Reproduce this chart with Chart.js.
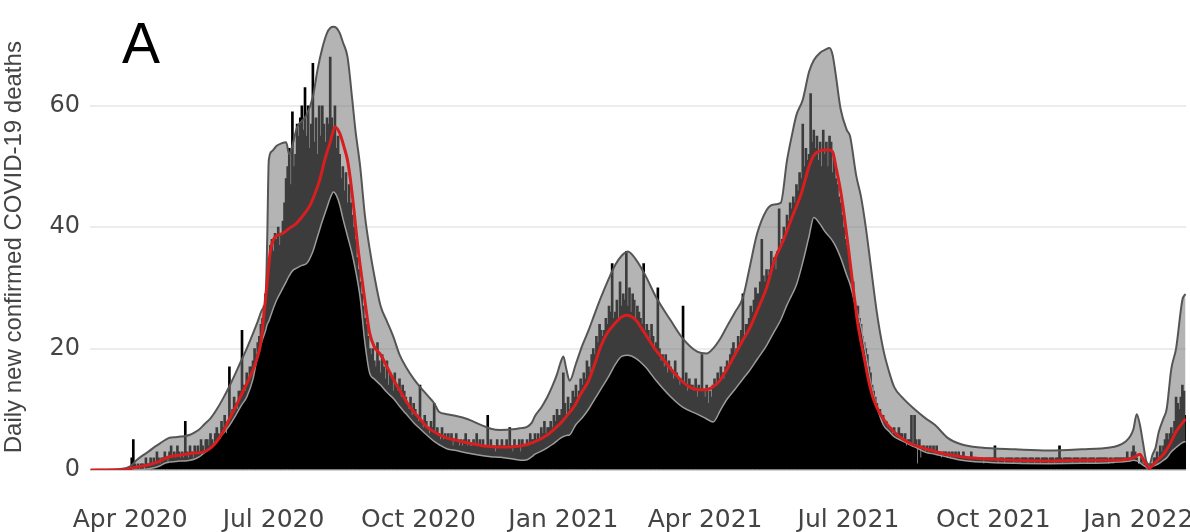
<!DOCTYPE html>
<html>
<head>
<meta charset="utf-8">
<script src="https://cdn.jsdelivr.net/npm/chart.js@4/dist/chart.umd.min.js"></script>
<style>
  html, body { margin: 0; padding: 0; background: #fff; }
  #wrap { width: 1190px; height: 532px; }
</style>
</head>
<body>
<div id="wrap"><canvas id="c" width="1190" height="532"></canvas></div>
<script>
// Day 0 is 7 Mar 2020; one value per day up to 31 Jan 2022.
const dailyDeaths = [
  0,0,0,0,0,0,0,0,0,0,0,0,0,0,0,0,0,0,0,0,0,0,0,0,0,
  0,2,5,1,0,1,0,
  1,1,0,2,1,1,2,
  1,2,1,3,2,1,2,
  2,3,2,1,3,4,2,
  3,2,4,3,2,3,2,
  8,3,2,4,3,2,4,
  3,4,3,5,4,3,5,
  5,4,6,5,4,6,7,
  6,5,8,7,9,6,8,
  17,9,10,12,11,10,13,
  13,23,14,13,16,15,17,
  17,18,20,19,21,22,24,
  25,27,29,32,35,37,38,
  36,39,38,40,37,39,41,
  44,48,50,53,47,59,50,
  52,57,55,58,60,56,63,
  55,60,53,57,67,54,58,
  52,60,55,60,57,54,58,
  57,68,58,56,60,53,55,
  52,48,50,46,49,44,47,
  44,42,40,38,35,33,31,
  29,27,25,24,22,20,19,
  20,18,17,21,18,16,19,
  17,15,18,14,16,15,13,
  16,14,13,15,12,14,13,
  12,11,10,12,9,11,10,
  9,8,14,8,7,9,8,
  7,6,8,7,11,6,7,
  6,5,7,5,6,5,6,
  5,6,4,5,6,5,4,
  5,4,5,6,4,5,4,
  4,5,4,6,4,5,4,
  5,4,4,9,4,5,4,
  4,3,5,4,4,5,4,
  4,5,4,7,4,3,5,
  4,4,5,3,5,4,4,
  5,4,6,5,5,6,5,
  6,5,7,6,8,6,7,
  7,8,7,9,8,10,9,
  9,10,16,11,9,12,10,
  11,13,12,14,12,13,15,
  14,16,15,18,17,16,19,
  20,19,22,21,24,23,22,
  23,25,24,27,26,34,25,
  26,28,25,31,27,29,28,
  36,27,30,26,29,28,25,
  27,26,25,24,34,23,24,
  23,21,24,22,20,21,30,
  20,18,19,17,19,16,18,
  17,16,15,18,16,15,14,
  15,27,14,16,13,15,14,
  14,13,15,12,14,13,19,
  13,12,14,11,13,12,14,
  15,14,16,15,17,16,15,
  17,18,17,19,20,21,19,
  20,22,21,23,29,22,24,
  24,25,27,26,28,30,29,
  29,31,38,32,31,33,32,
  33,36,34,35,33,36,43,
  37,38,40,39,42,41,44,
  43,45,44,47,46,49,48,
  57,50,53,51,52,62,54,
  56,53,55,51,54,50,56,
  52,54,50,55,54,49,51,
  48,47,45,44,42,40,38,
  37,35,33,30,31,28,27,
  27,25,24,22,21,20,19,
  17,16,14,13,12,11,10,
  10,9,9,8,8,7,7,
  7,6,7,6,6,7,6,
  6,5,6,4,5,5,9,
  4,9,5,1,5,2,4,
  4,3,4,3,4,3,4,
  3,4,3,3,2,3,3,
  3,2,3,2,3,2,3,
  2,3,2,2,3,2,2,
  2,2,3,2,2,2,2,
  2,2,2,1,2,2,2,
  2,2,2,4,2,1,2,
  2,2,1,2,2,2,2,
  2,1,2,2,2,1,2,
  2,2,2,1,2,2,2,
  1,2,2,2,1,2,2,
  2,2,1,2,2,2,1,
  2,2,4,2,1,2,2,
  2,2,2,1,2,2,2,
  2,1,2,2,2,2,1,
  2,2,2,2,1,2,2,
  2,2,2,2,2,1,2,
  2,1,2,2,2,2,2,
  2,2,2,3,2,2,3,
  4,3,2,1,1,2,1,
  1,0,1,0,1,1,2,
  2,3,2,4,3,4,5,
  6,5,6,7,6,8,12,
  11,10,12,14,13,9
];

// Credible band: shared day positions for the upper and lower bounds.
const bandDay = [0,20,25,29,33,37,41,44,47,50,54,57,60,63,66,69,72,76,80,84,88,92,96,99,103,106,109,111,112,113,115,118,121,124,126,128,131,134,137,141,144,147,150,152,154,156,158,160,163,166,168,171,174,177,180,184,188,192,196,200,205,209,214,218,221,226,232,239,248,254,260,268,273,277,280,282,286,290,293,296,298,300,302,304,308,312,316,320,324,329,333,337,341,346,352,359,368,376,385,391,395,400,404,409,414,418,423,429,433,438,442,445,448,452,456,459,463,466,469,471,473,476,480,482,486,489,492,495,499,503,507,510,515,523,530,536,544,553,565,587,608,629,647,652,657,660,662,664,666,668,670,672,674,676,678,681,683,686,689,693,695];

const upperBound = [0,0.2,0.6,1.6,2.4,3.1,3.9,4.4,4.9,5.3,5.4,5.5,5.6,5.8,6.2,6.7,7.5,8.5,10,11.8,13.8,16,18.3,20,22.5,24.5,26.5,28,38,51,52.5,53.4,53.8,54,52,53.5,56.5,57.5,58.5,61.5,66,69.5,72,72.8,73,72.8,72,70.5,68,61,56,50,42,36.5,32,27,24.5,22,19,17,15,13.7,12.2,11,9.6,9.2,8.9,8.4,7.4,6.8,6.6,6.7,6.9,7.1,7.8,8.9,10.3,12.1,13.8,15.8,17.5,18.7,16.5,14.7,17.5,20.5,23,25.8,28.5,31.6,33.8,35.3,36,34.7,32.1,28.4,24.7,21.6,19.5,19.2,20,21.8,23.7,26,28.4,33,38.9,42.8,43.7,44,51,55,58.5,61,65.6,67.5,68.75,69.2,69.5,68.3,65,59.5,56,55,48.4,45,40,34,26,20,16,13.7,12,10,8.5,7.4,5.3,4.2,3.7,3.4,3.2,3.4,3.7,4,4.7,5.6,6.8,9.2,7.5,4.5,1.5,0.8,2.5,3.7,6.25,8.5,10,16.7,20,28,29];

const lowerBound = [0,0,0,0,0.1,0.2,0.4,0.7,1.1,1.3,1.4,1.5,1.5,1.6,1.8,2.2,2.8,3.6,4.8,6,7.3,9,10.8,12,15,19,21.5,23,24,24.5,26,28,29.5,31,32,32.8,33.3,33.7,34,36,38.5,41,43.3,44.8,45.8,45.2,43.7,41.5,38.5,35.5,33,28.4,21,16,15,14,12.8,11.8,10.5,9.3,7.8,6.8,5.6,4.7,4.2,3.5,3.2,2.8,2.4,2.2,2.1,1.8,1.6,1.7,2.2,2.6,3.1,3.7,4.2,4.8,5.2,5.5,5.7,5.8,7.5,8.6,10,11.7,13.4,15.5,17.4,18.7,18.9,18.4,17,14.7,12.1,10.3,9.2,8.4,7.9,10,11.7,13.3,15,16.3,18.2,20.5,22.4,24.7,27.2,28.8,30.5,34.2,38.5,41.6,40.5,39.3,38.4,37.7,36.8,35,32,30.6,26.5,23.5,19,14.5,10.5,7.5,6.3,5.5,4.8,3.8,2.9,2.6,2.1,1.6,1.3,1.1,1.05,1.1,1.2,1.3,1.4,1.5,1.6,1.5,1.2,0.8,0.5,0.3,0.6,0.8,1.05,1.6,2,3,3.7,4.5,4.7];

// Smoothed daily estimate.
const meanDay = [0,20,26,32,39,44,49,55,60,66,71,76,80,84,88,92,96,101,105,108,110,112,113,114,116,119,122,126,130,135,139,142,145,149,152,155,158,161,163,165,167,169,171,174,177,180,184,188,192,196,201,205,209,213,218,222,226,232,239,245,252,258,265,271,277,284,290,295,299,303,307,311,316,320,324,328,333,337,340,343,346,350,354,358,363,367,371,375,380,384,388,392,395,399,402,406,410,414,418,424,429,434,440,445,451,456,459,463,466,469,471,473,476,478,481,484,487,491,494,497,501,506,512,518,526,534,545,555,570,587,610,629,645,655,659,663,666,668,670,672,675,678,681,685,689,695];

const meanDeaths = [0,0,0.3,0.6,1,1.5,2.1,2.4,2.6,2.8,2.9,3.6,4.7,6.3,8.4,10.4,12.6,15.3,17.9,21,25.8,31,33.7,36,38,38.7,39,39.8,40.5,42,43.5,45.3,47.5,51.5,54,56.5,55.5,53,51,47.5,43,38,33.7,27.9,22.6,20.3,19,17,15,13.2,11,9.6,8.4,7.2,6.3,5.7,5.3,4.9,4.5,4.2,3.9,3.8,3.8,3.9,4.2,4.9,5.8,6.9,7.9,9.2,10.5,12.5,14.7,17.5,20.5,22.6,24.2,25.2,25.5,25.3,24.7,23.2,21.6,20,18.4,17,15.8,14.7,13.7,13.3,13.2,13.3,13.7,14.6,15.8,17.6,19.5,21.4,23.2,26.8,30,34.5,38,41.5,45.5,50,51.8,52.6,52.7,52.7,52.4,50,46,42.5,36.5,30,24,18.5,14.5,11.6,9.3,7.4,5.8,4.7,3.8,3.2,2.5,2.1,1.8,1.6,1.5,1.6,1.6,1.7,1.8,2.2,2.6,1.8,0.9,0.3,1,1.8,2.6,4.2,6.3,8.4];

const tickDay = [25, 116, 208, 300, 390, 481, 573, 665];
const tickLabels = ['Apr 2020', 'Jul 2020', 'Oct 2020', 'Jan 2021', 'Apr 2021', 'Jul 2021', 'Oct 2021', 'Jan 2022'];
const yTicks = [0, 20, 40, 60];
const yTitle = 'Daily new confirmed COVID-19 deaths';
const panelLetter = 'A';

const barPoints = dailyDeaths.map((v, d) => ({ x: d, y: v }));
const upperPoints = bandDay.map((d, i) => ({ x: d, y: upperBound[i] }));
const lowerPoints = bandDay.map((d, i) => ({ x: d, y: lowerBound[i] }));
const meanPoints = meanDay.map((d, i) => ({ x: d, y: meanDeaths[i] }));

const panelLabel = {
  id: 'panelLabel',
  afterDraw(chart) {
    const ctx = chart.ctx;
    ctx.save();
    ctx.font = '57px "Liberation Sans", Arial, sans-serif';
    ctx.fillStyle = '#000';
    ctx.textBaseline = 'alphabetic';
    ctx.fillText(panelLetter, 122, 63);
    ctx.restore();
  }
};

new Chart(document.getElementById('c'), {
  type: 'bar',
  data: {
    datasets: [
      {
        type: 'bar',
        data: barPoints,
        backgroundColor: '#000',
        borderWidth: 0,
        barThickness: 2,
        order: 4
      },
      {
        type: 'line',
        data: lowerPoints,
        borderColor: '#9c9c9c',
        borderWidth: 1.5,
        pointRadius: 0,
        fill: false,
        cubicInterpolationMode: 'monotone',
        order: 2
      },
      {
        type: 'line',
        data: upperPoints,
        borderColor: '#555',
        borderWidth: 2,
        pointRadius: 0,
        fill: 1,
        backgroundColor: 'rgba(113,113,113,0.53)',
        cubicInterpolationMode: 'monotone',
        order: 3
      },
      {
        type: 'line',
        data: meanPoints,
        borderColor: '#d81e1e',
        borderWidth: 3,
        pointRadius: 0,
        fill: false,
        cubicInterpolationMode: 'monotone',
        order: 1
      }
    ]
  },
  options: {
    responsive: false,
    devicePixelRatio: 1,
    animation: false,
    layout: { padding: { top: 0, right: 4, bottom: 0, left: 0 } },
    plugins: { legend: { display: false }, tooltip: { enabled: false } },
    scales: {
      x: {
        type: 'linear',
        offset: false,
        min: -0.5,
        max: 695.3,
        grid: { display: false, offset: false },
        border: { display: false },
        afterBuildTicks: (s) => { s.ticks = tickDay.map(v => ({ value: v })); },
        afterFit: (s) => { s.height = 62; s.paddingLeft = 0; s.paddingRight = 0; },
        ticks: {
          autoSkip: false,
          maxRotation: 0,
          padding: 27,
          color: '#444',
          font: { family: 'DejaVu Sans', size: 25 },
          callback: (v, i) => tickLabels[i]
        }
      },
      y: {
        min: 0,
        max: 73.4,
        afterBuildTicks: (s) => { s.ticks = yTicks.map(v => ({ value: v })); },
        afterFit: (s) => { s.width = 90; },
        grid: {
          drawTicks: false,
          lineWidth: 2,
          color: (c) => (c.tick && c.tick.value === 0 ? '#d0d0d0' : '#ececec')
        },
        border: { display: false },
        ticks: {
          padding: 10,
          color: '#444',
          font: { family: 'DejaVu Sans', size: 24 }
        },
        title: {
          display: true,
          text: yTitle,
          color: '#444',
          padding: { top: 0, bottom: 0 },
          font: { family: 'Liberation Sans', size: 24 }
        }
      }
    }
  },
  plugins: [panelLabel]
});
</script>
</body>
</html>
